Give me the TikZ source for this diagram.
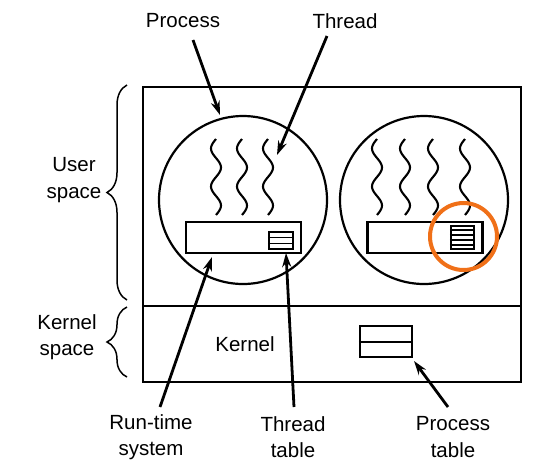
\documentclass[tikz,border=0pt]{standalone}
\usepackage{fontspec}
\setmainfont{Liberation Sans}
\usetikzlibrary{arrows.meta,decorations.pathreplacing,calc}
\definecolor{hiorange}{RGB}{240,112,24}
\begin{document}
\begin{tikzpicture}[x=1pt,y=-1pt,
  lbl/.style={font=\fontsize{20.5}{26.5}\selectfont, align=center, inner sep=0pt},
  frame/.style={line width=2.7pt},
  proc/.style={draw, circle, line width=2.2pt, minimum size=168pt, inner sep=0pt},
  rts/.style={draw, rectangle, line width=2.3pt, inner sep=0pt, minimum width=115pt, minimum height=31pt},
  tbl/.style={draw, rectangle, line width=2.1pt, inner sep=0pt},
  ptr/.style={line width=2.8pt, -{Stealth[length=14pt,width=9pt]}},
  squiggle/.style={line width=2.1pt},
  bracestyle/.style={line width=1.5pt, decorate, decoration={brace, amplitude=20pt}},
  hilite/.style={draw=hiorange, circle, line width=4pt, minimum size=67pt, inner sep=0pt}
]
\useasboundingbox (0,0) rectangle (546,475);

% outer frame and divider
\draw[frame] (143,87) rectangle (521,382);
\draw[frame] (143,306) -- (521,306);

% processes
\node[proc] (p1) at (243,200) {};
\node[proc] (p2) at (424,200) {};

% threads
\foreach \cx in {216,242,268,377,405,433,465}{
  \draw[squiggle] plot[domain=0:1, samples=50, smooth] ({\cx - 5*sin(720*\x)}, {139 + 76*\x});
}

% run-time systems
\node[rts] (r1) at (243.5,237.5) {};
\node[rts] (r2) at (425,237.5) {};

% thread tables
\node[tbl, minimum width=24pt, minimum height=17pt] (t1) at (281,240.5) {};
\foreach \i in {1,2} \draw[line width=1.6pt] ($(t1.north west)!{\i/3}!(t1.south west)$) -- ($(t1.north east)!{\i/3}!(t1.south east)$);
\node[tbl, minimum width=23pt, minimum height=23pt] (t2) at (462.5,237.5) {};
\foreach \i in {1,2,3,4} \draw[line width=1.6pt] ($(t2.north west)!{\i/5}!(t2.south west)$) -- ($(t2.north east)!{\i/5}!(t2.south east)$);

% highlight
\node[hilite] (hl) at (463.5,236.5) {};

% kernel
\node[lbl] (kern) at (245,344) {Kernel};
\node[tbl, minimum width=52pt, minimum height=31pt] (pt) at (386,341.5) {};
\draw[line width=2pt] (pt.west) -- (pt.east);

% braces
\draw[bracestyle] (127,300) -- (127,85);
\draw[bracestyle] (127,377) -- (127,307);
\node[lbl] (us) at (74,180) {User\\space};
\node[lbl] (ks) at (67,337) {Kernel\\space};

% labels
\node[lbl] (lproc) at (183,21) {Process};
\node[lbl] (lthr) at (345,21) {Thread};
\node[lbl] (lrts) at (151,437) {Run-time\\system};
\node[lbl] (ltt) at (293,437) {Thread\\table};
\node[lbl] (lpt) at (453,437) {Process\\table};

% arrow ends
\coordinate (a1s) at (193,40);
\coordinate (a1e) at (220,115);
\coordinate (a2s) at (327,36);
\coordinate (a2e) at (277,155);
\coordinate (a3s) at (160,407);
\coordinate (a3e) at (212,257);
\coordinate (a4s) at (294,407);
\coordinate (a4e) at (286,253);
\coordinate (a5s) at (448,407);
\coordinate (a5e) at (414,361);

\draw[ptr] (a1s) -- (a1e);
\draw[ptr] (a2s) -- (a2e);
\draw[ptr] (a3s) -- (a3e);
\draw[ptr] (a4s) -- (a4e);
\draw[ptr] (a5s) -- (a5e);
\end{tikzpicture}
\end{document}
